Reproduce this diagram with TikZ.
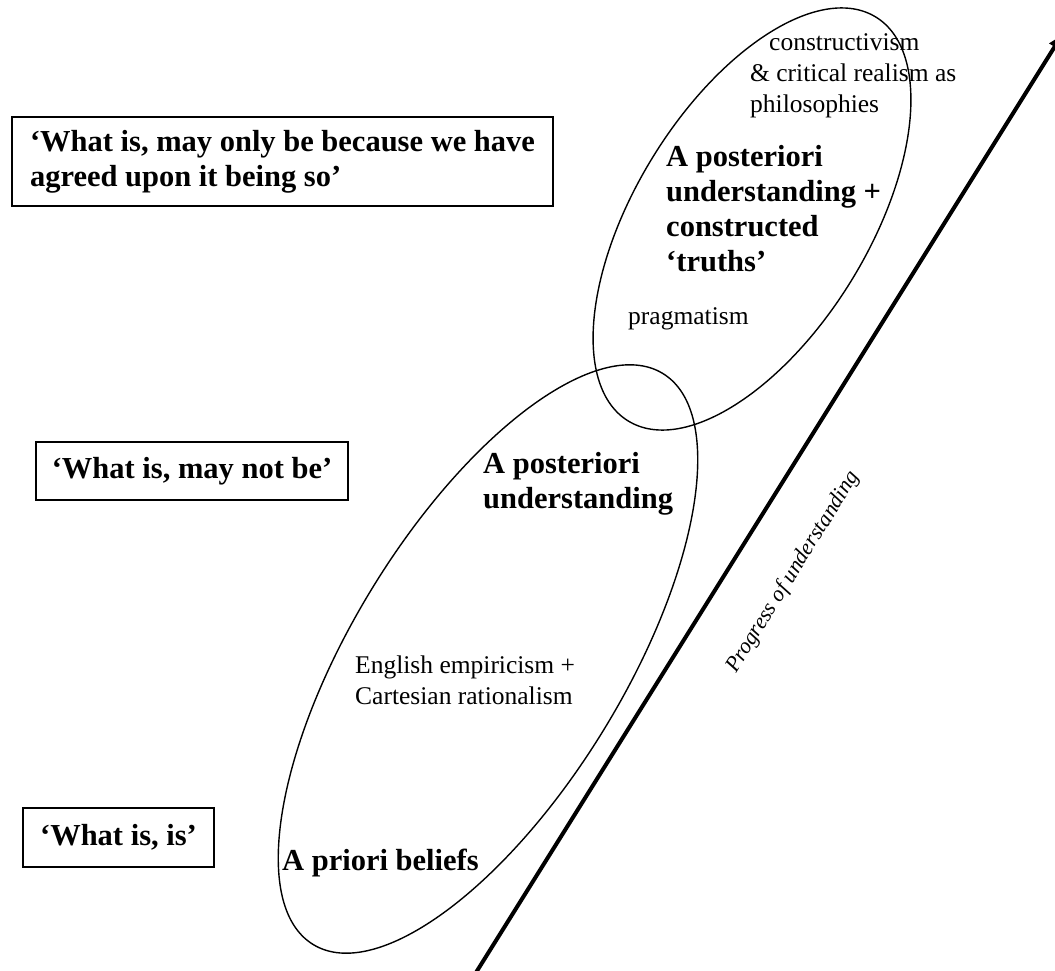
\documentclass[tikz,border=0pt]{standalone}
\usepackage{fontspec}
\setmainfont{Liberation Serif}
\usetikzlibrary{arrows.meta}
\begin{document}
\begin{tikzpicture}[x=1pt,y=-1pt,
  claim/.style={draw, line width=1.4pt, inner sep=0pt,
    font=\bfseries\fontsize{30.5}{35}\selectfont},
  heading/.style={anchor=base west, inner sep=0pt, align=left,
    font=\bfseries\fontsize{30.5}{35}\selectfont},
  note/.style={anchor=base west, inner sep=0pt, align=left,
    font=\fontsize{25.5}{31}\selectfont},
  outline/.style={line width=1.4pt}]
\useasboundingbox (0,0) rectangle (1055,971);

% statements on the left
\node[claim, minimum width=541pt, minimum height=89pt, align=left]
  (agreed) at (282.5,161.5) {‘What is, may only be because we have\\agreed upon it being so’};
\node[claim, minimum width=312pt, minimum height=58pt] (maynot) at (192,471) {‘What is, may not be’};
\node[claim, minimum width=191pt, minimum height=59pt] (is) at (118.5,837.5) {‘What is, is’};

% the two overlapping domains
\draw[outline, rotate around={58.5:(488,659)}] (488,659) ellipse [x radius=334.8pt, y radius=135.7pt];
\draw[outline, rotate around={58.5:(752,219)}] (752,219) ellipse [x radius=236.9pt, y radius=116.9pt];

% progress axis
\coordinate (axisfoot) at (468.2,985);
\coordinate (axishead) at (1062,35);
\draw[line width=4pt, -{Triangle[length=14pt, width=12pt]}] (axisfoot) -- (axishead);
\node[anchor=base west, inner sep=0pt, rotate=58, font=\itshape\fontsize{22}{26}\selectfont]
  (progress) at (736,674) {Progress of understanding};

% labels inside the domains (anchored at the baseline of their last line)
\node[note] (philo) at (750,113) {\hspace*{19pt}constructivism\\\& critical realism as\\philosophies};
\node[heading] (constructed) at (666,271) {A posteriori\\understanding +\\constructed\\‘truths’};
\node[note] (pragma) at (628,324) {pragmatism};
\node[heading] (aposteriori) at (483,508) {A posteriori\\understanding};
\node[note] (empiric) at (355,704) {English empiricism +\\Cartesian rationalism};
\node[heading] (apriori) at (282,870) {A priori beliefs};
\end{tikzpicture}
\end{document}
